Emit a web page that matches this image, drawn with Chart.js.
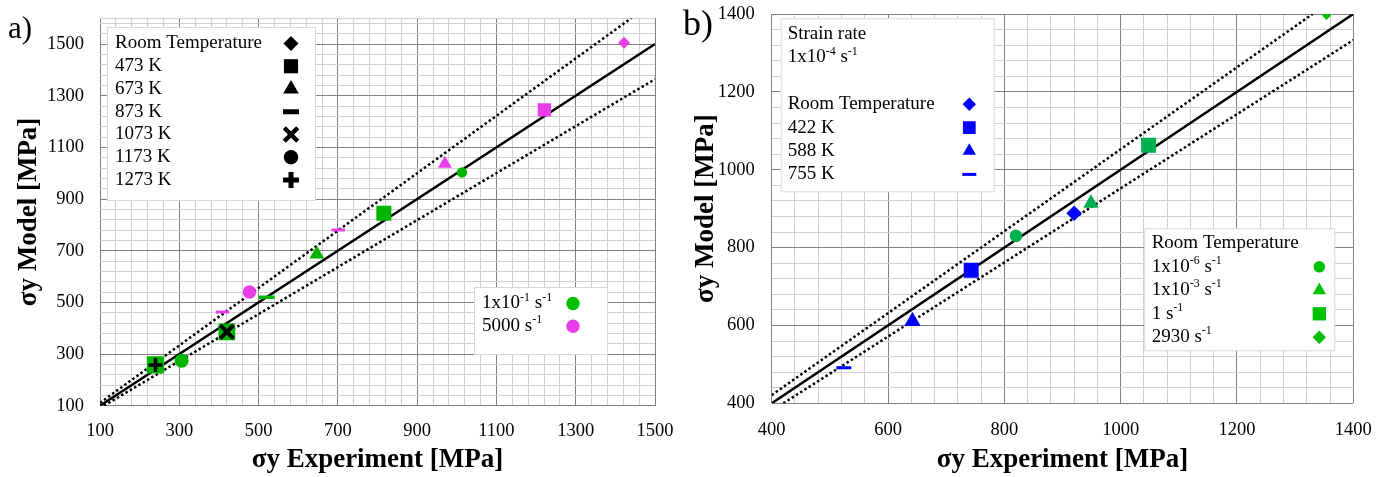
<!DOCTYPE html>
<html>
<head>
<meta charset="utf-8">
<script src="https://cdn.jsdelivr.net/npm/chart.js@4.4.1/dist/chart.umd.min.js"></script>
<style>
body { margin: 0; background: #fff; }
#wrap { position: relative; width: 1387px; height: 477px; }
canvas { position: absolute; top: 0; }
#chartA { left: 0; }
#chartB { left: 680px; }
</style>
</head>
<body>
<div id="wrap">
<canvas id="chartA" width="680" height="477"></canvas>
<canvas id="chartB" width="707" height="477"></canvas>
</div>
<script>
// a) green = 1x10^-1 s^-1, magenta = 5000 s^-1
const aGreenX = [1013, 816, 647, 520, 420, 306, 240];
const aGreenY = [1003, 845, 686, 520, 386, 274, 258];
const aPinkX = [1422, 1221, 970, 701, 477, 409];
const aPinkY = [1505, 1245, 1037, 780, 540, 463];
const aBlackX = [420, 240];
const aBlackY = [386, 258];
const aLineX = [100, 1500];
const aUpperX = [100, 1440];
const aUpperY = [111, 1600];
const aLowerX = [110, 1500];
const aLowerY = [100, 1364];
const aTicks = [100, 300, 500, 700, 900, 1100, 1300, 1500];

// b) blue = 1x10^-4 s^-1, green = room temperature
const bBlueX = [920, 743, 642, 524];
const bBlueY = [888, 742, 611, 491];
const bGreenX = [820, 949, 1048, 1354];
const bGreenY = [830, 914, 1063, 1396];
const bLineX = [400, 1400];
const bUpperX = [400, 1330];
const bUpperY = [421, 1400];
const bLowerX = [420, 1400];
const bLowerY = [400, 1333];
const bTicks = [400, 600, 800, 1000, 1200, 1400];

const legendA1 = ['Room Temperature', '473 K', '673 K', '873 K', '1073 K', '1173 K', '1273 K'];
const legendA2 = ['1x10^-1 s^-1', '5000 s^-1'];
const legendB1 = ['Strain rate', '1x10^-4 s^-1', '', 'Room Temperature', '422 K', '588 K', '755 K'];
const legendB2 = ['Room Temperature', '1x10^-6 s^-1', '1x10^-3 s^-1', '1 s^-1', '2930 s^-1'];

const xTitle = 'σy Experiment [MPa]';
const yTitle = 'σy Model [MPa]';

const GREEN = '#00b400', PINK = '#e83ee8', BLUE = '#0000ff', TEAL = '#00b050', LIME = '#00c000';
const FONT = '"Liberation Serif", "Times New Roman", serif';

Chart.defaults.font.family = FONT;
Chart.defaults.color = '#000';

const pts = (xs, ys) => xs.map((x, i) => ({x: x, y: ys[i]}));

function gridTicks(min, max, step) {
	const t = [];
	for (let v = min; v < max; v += step) t.push({value: v});
	t.push({value: max});
	return t;
}

function drawRich(ctx, txt, x, y) {
	const parts = txt.split(/\^(-?\d+)/);
	ctx.textBaseline = 'middle';
	ctx.textAlign = 'left';
	parts.forEach((p, i) => {
		const sup = i % 2 === 1;
		ctx.font = (sup ? 12 : 19) + 'px ' + FONT;
		ctx.fillText(p, x, sup ? y - 6 : y);
		x += ctx.measureText(p).width;
	});
}

const decor = {
	id: 'decor',
	afterDraw(chart, args, opts) {
		const ctx = chart.ctx;
		ctx.save();
		ctx.fillStyle = '#000';
		ctx.font = opts.tagSize + 'px ' + FONT;
		ctx.textBaseline = 'alphabetic';
		ctx.fillText(opts.tag, opts.tagX, opts.tagY);
		opts.boxes.forEach(b => {
			ctx.fillStyle = '#fff';
			ctx.fillRect(b.x, b.y, b.w, b.h);
			ctx.strokeStyle = '#d9d9d9';
			ctx.lineWidth = 1;
			ctx.strokeRect(b.x + 0.5, b.y + 0.5, b.w, b.h);
			b.labels.forEach((txt, i) => {
				const y = b.rowY + i * b.step;
				ctx.fillStyle = '#000';
				drawRich(ctx, txt, b.textX, y);
				const m = b.marks[i];
				if (m) {
					ctx.fillStyle = m.color;
					ctx.strokeStyle = m.color;
					ctx.lineWidth = m.bw || 0;
					Chart.helpers.drawPoint(ctx, {pointStyle: m.style, radius: m.r, rotation: 0, borderWidth: m.bw || 0}, b.markX, y);
				}
			});
		});
		ctx.restore();
	}
};

// fixed axis boxes so the plot area lands where the original has it
function fixX(h) {
	return s => { s.height = h; s.paddingLeft = 0; s.paddingRight = 0; };
}
function fixY(w) {
	return s => { s.width = w; s.paddingTop = 0; s.paddingBottom = 0; };
}

function axis(min, max, labels, fit, title, titlePad, tickPad) {
	return {
		type: 'linear',
		min: min,
		max: max,
		afterBuildTicks: s => { s.ticks = gridTicks(min, max, 40); },
		afterFit: fit,
		border: {display: false},
		grid: {
			drawTicks: false,
			lineWidth: 1,
			color: c => labels.includes(c.tick.value) ? '#808080' : '#d0d0d0'
		},
		ticks: {
			autoSkip: false,
			maxRotation: 0,
			minRotation: 0,
			padding: tickPad,
			font: {size: 18.5},
			color: '#000',
			callback: v => labels.includes(v) ? String(v) : ''
		},
		title: {
			display: true,
			text: title,
			font: {size: 27, weight: 'bold'},
			color: '#000',
			padding: titlePad
		}
	};
}

function markSet(data, color, styles, radii, widths) {
	return {
		data: data,
		pointStyle: styles,
		pointRadius: radii,
		pointBorderWidth: widths,
		pointBackgroundColor: color,
		pointBorderColor: color
	};
}

function refLine(data, dashed) {
	return {
		data: data,
		showLine: true,
		pointRadius: 0,
		borderColor: '#000',
		borderWidth: 2.5,
		borderDash: dashed ? [2.5, 2.5] : []
	};
}

const configA = {
	type: 'scatter',
	data: {
		datasets: [
			markSet(pts(aBlackX, aBlackY), '#000', ['crossRot', 'cross'], [9.4, 7], [4, 3.5]),
			markSet(pts(aGreenX, aGreenY), GREEN,
				['circle', 'rect', 'triangle', 'line', 'rect', 'circle', 'rect'],
				[5.2, 10.6, 8.5, 8, 11.8, 7, 12.3], [0, 0, 0, 3.5, 0, 0, 0]),
			markSet(pts(aPinkX, aPinkY), PINK,
				['rectRot', 'rect', 'triangle', 'line', 'circle', 'line'],
				[6, 9.4, 8, 6.7, 6.7, 6.7], [0, 0, 0, 3, 0, 3]),
			refLine(pts(aLineX, aLineX), false),
			refLine(pts(aUpperX, aUpperY), true),
			refLine(pts(aLowerX, aLowerY), true)
		]
	},
	options: {
		responsive: false,
		animation: false,
		events: [],
		layout: {padding: {left: 0, right: 25, top: 18.2, bottom: 0}},
		scales: {
			x: axis(100, 1500, aTicks, fixX(71.3), xTitle, {top: 0, bottom: 1}, 14),
			y: axis(100, 1600, aTicks, fixY(100), yTitle, {top: 12.4, bottom: 0}, 16)
		},
		plugins: {
			legend: {display: false},
			tooltip: {enabled: false},
			decor: {
				tag: 'a)', tagSize: 31, tagX: 8, tagY: 38,
				boxes: [
					{x: 107, y: 27, w: 208, h: 173, textX: 115, rowY: 43.5, step: 22.75, markX: 291, labels: legendA1,
						marks: [
							{style: 'rectRot', r: 7.5, color: '#000'},
							{style: 'rect', r: 10, color: '#000'},
							{style: 'triangle', r: 9, color: '#000'},
							{style: 'line', r: 8, color: '#000', bw: 5},
							{style: 'crossRot', r: 9.5, color: '#000', bw: 4.5},
							{style: 'circle', r: 7.2, color: '#000'},
							{style: 'cross', r: 8, color: '#000', bw: 5}
						]},
					{x: 474, y: 287, w: 133, h: 67, textX: 482, rowY: 303.5, step: 22.7, markX: 573, labels: legendA2,
						marks: [
							{style: 'circle', r: 6.7, color: LIME},
							{style: 'circle', r: 6.7, color: PINK}
						]}
				]
			}
		}
	},
	plugins: [decor]
};

const configB = {
	type: 'scatter',
	data: {
		datasets: [
			markSet(pts(bBlueX, bBlueY), BLUE,
				['rectRot', 'rect', 'triangle', 'line'],
				[7.8, 10.6, 9.5, 7.5], [0, 0, 0, 3]),
			markSet(pts(bGreenX, bGreenY), [TEAL, TEAL, TEAL, LIME],
				['circle', 'triangle', 'rect', 'rectRot'],
				[6.3, 8.9, 10.6, 4.5], [0, 0, 0, 0]),
			refLine(pts(bLineX, bLineX), false),
			refLine(pts(bUpperX, bUpperY), true),
			refLine(pts(bLowerX, bLowerY), true)
		]
	},
	options: {
		responsive: false,
		animation: false,
		events: [],
		layout: {padding: {left: 0, right: 33.7, top: 14, bottom: 0}},
		scales: {
			x: axis(400, 1400, bTicks, fixX(73.7), xTitle, {top: 0, bottom: 1}, 16),
			y: axis(400, 1400, bTicks, fixY(91.7), yTitle, {top: 10, bottom: 0}, 17)
		},
		plugins: {
			legend: {display: false},
			tooltip: {enabled: false},
			decor: {
				tag: 'b)', tagSize: 36, tagX: 3, tagY: 35,
				boxes: [
					{x: 100.7, y: 18.3, w: 213, h: 173, textX: 107.7, rowY: 34, step: 23.4, markX: 289.3, labels: legendB1,
						marks: [null, null, null,
							{style: 'rectRot', r: 6.7, color: BLUE},
							{style: 'rect', r: 9, color: BLUE},
							{style: 'triangle', r: 7.7, color: BLUE},
							{style: 'line', r: 7, color: BLUE, bw: 3}
						]},
					{x: 464.3, y: 228.3, w: 190, h: 122, textX: 471.7, rowY: 243.3, step: 23.5, markX: 639.3, labels: legendB2,
						marks: [null,
							{style: 'circle', r: 5.8, color: LIME},
							{style: 'triangle', r: 7.7, color: LIME},
							{style: 'rect', r: 9.4, color: LIME},
							{style: 'rectRot', r: 6.7, color: LIME}
						]}
				]
			}
		}
	},
	plugins: [decor]
};

const chartA = new Chart(document.getElementById('chartA'), configA);
const chartB = new Chart(document.getElementById('chartB'), configB);
</script>
</body>
</html>
